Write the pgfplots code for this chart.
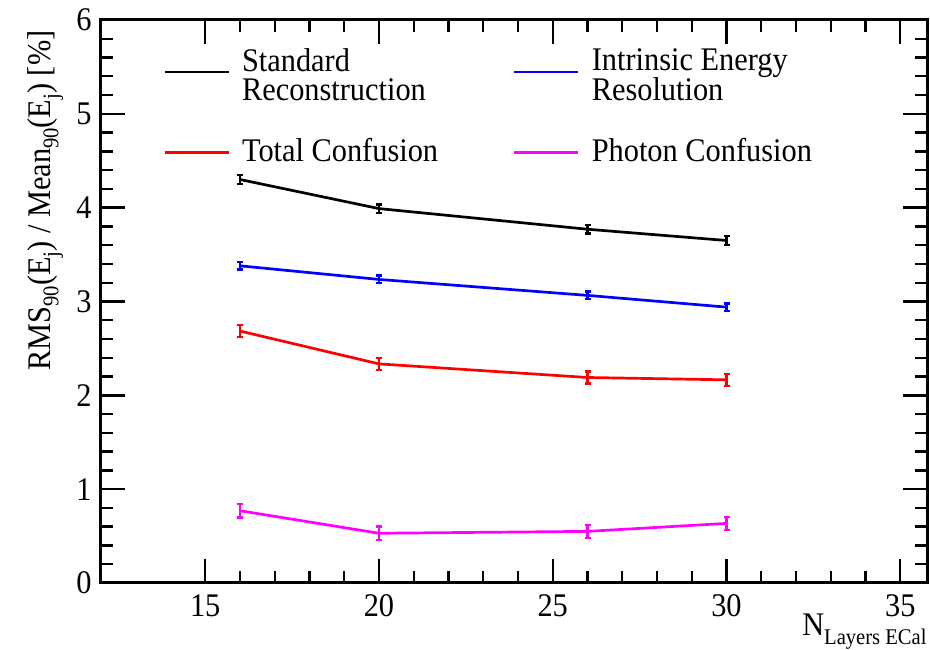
\documentclass[border=0pt]{standalone}
\usepackage{fontspec}
\setmainfont[FakeStretch=0.92]{Liberation Serif}
\usepackage{pgfplots}
\pgfplotsset{compat=1.18}
\definecolor{rootmag}{RGB}{255,0,255}
\definecolor{rootblue}{RGB}{0,0,255}
\definecolor{rootred}{RGB}{255,0,0}
\newcommand\sub[1]{\raisebox{-0.25em}{\fontsize{11.2}{12}\selectfont #1}}
\renewcommand\arraystretch{0.8}
\pgfplotstableread{
x y e
16 4.30 0.045
20 3.99 0.045
26 3.77 0.045
30 3.65 0.045
}\stdreco
\pgfplotstableread{
x y e
16 3.38 0.04
20 3.235 0.04
26 3.065 0.04
30 2.94 0.04
}\intrinsic
\pgfplotstableread{
x y e
16 2.685 0.065
20 2.335 0.065
26 2.19 0.065
30 2.165 0.065
}\totconf
\pgfplotstableread{
x y e
16 0.77 0.07
20 0.53 0.07
26 0.55 0.07
30 0.635 0.07
}\phoconf
\begin{document}
\fontsize{16.5}{18}\selectfont
\begin{tikzpicture}
\begin{axis}[
  scale only axis, width=413pt, height=281.5pt,
  xmin=12, xmax=35.77, ymin=0, ymax=6,
  xtick={15,20,25,30,35}, ytick={0,1,2,3,4,5,6},
  minor x tick num=4, minor y tick num=4,
  tick align=inside,
  major tick length=12pt, minor tick length=6pt,
  every tick/.style={black, line width=1.2pt},
  axis line style={line width=1.5pt},
  /pgf/number format/assume math mode=true,
  ticklabel style={font=\fontsize{16.5}{18}\selectfont, inner sep=0pt},
  xticklabel style={yshift=-5.5pt},
  yticklabel style={xshift=-4.5pt},
  xlabel={N\sub{Layers ECal}},
  ylabel={RMS\sub{90}(E\sub{j}) / Mean\sub{90}(E\sub{j}) [\%]},
  label style={font=\fontsize{16.5}{18}\selectfont},
  xlabel style={at={(axis description cs:1,0)}, anchor=base east, yshift=-26.5pt, inner sep=0pt},
  ylabel style={at={(axis description cs:-0.0617,0.982)}, anchor=base east, inner sep=0pt},
  legend columns=2,
  legend cell align=left,
  legend image code/.code={\draw[#1, line width=1.35pt] (0pt,0pt) -- (32pt,0pt);},
  legend style={at={(rel axis cs:0.075,0.957)}, anchor=north west, draw=none, fill=none,
    inner sep=0pt, column sep=4pt, row sep=17.5pt,
    font=\fontsize{16.5}{14.3}\selectfont,
    /tikz/every even column/.append style={column sep=35.5pt}},
  error bars/error mark=|,
]
\coordinate (sw) at (rel axis cs:0,0);
\coordinate (ne) at (rel axis cs:1,1);
\addplot[black, line width=1.35pt, mark=none,
  error bars/.cd, y dir=both, y explicit,
  error bar style={line width=1.2pt},
  error mark options={line width=1.2pt, mark size=1.5pt}]
  table[x=x, y=y, y error=e] {\stdreco};
\addlegendentry{\raisebox{2pt}{\begin{tabular}{@{}l@{}}Standard\\Reconstruction\end{tabular}}}
\addplot[rootblue, line width=1.35pt, mark=none,
  error bars/.cd, y dir=both, y explicit,
  error bar style={line width=1.2pt},
  error mark options={line width=1.2pt, mark size=1.5pt}]
  table[x=x, y=y, y error=e] {\intrinsic};
\addlegendentry{\raisebox{2pt}{\begin{tabular}{@{}l@{}}Intrinsic Energy\\Resolution\end{tabular}}}
\addplot[rootred, line width=1.35pt, mark=none,
  error bars/.cd, y dir=both, y explicit,
  error bar style={line width=1.2pt},
  error mark options={line width=1.2pt, mark size=1.5pt}]
  table[x=x, y=y, y error=e] {\totconf};
\addlegendentry{Total Confusion}
\addplot[rootmag, line width=1.35pt, mark=none,
  error bars/.cd, y dir=both, y explicit,
  error bar style={line width=1.2pt},
  error mark options={line width=1.2pt, mark size=1.5pt}]
  table[x=x, y=y, y error=e] {\phoconf};
\addlegendentry{Photon Confusion}
\end{axis}
\pgfresetboundingbox
\path ([shift={(-50.5pt,-33.5pt)}]sw) rectangle ([shift={(1.5pt,10pt)}]ne);
\end{tikzpicture}
\end{document}
